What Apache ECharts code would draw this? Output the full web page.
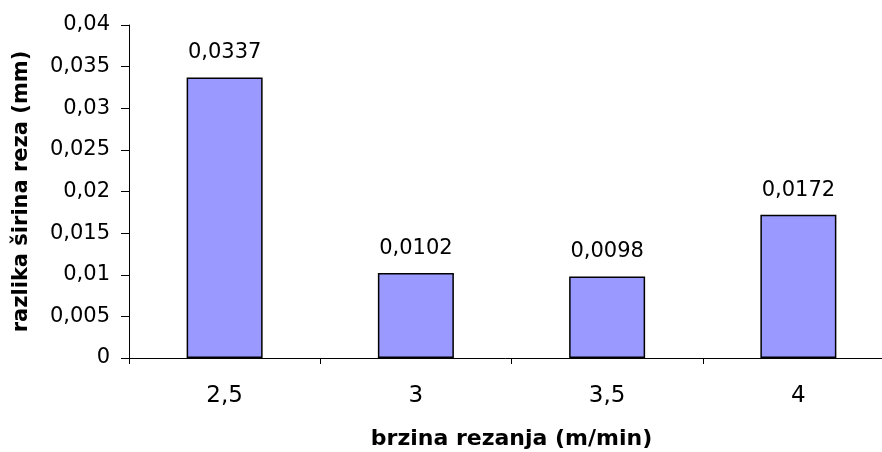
<!DOCTYPE html>
<html>
<head>
<meta charset="utf-8">
<script src="https://cdn.jsdelivr.net/npm/echarts@6/dist/echarts.min.js"></script>
<style>
  html, body { margin: 0; padding: 0; background: #fff; }
  #chart { width: 882px; height: 452px; }
</style>
</head>
<body>
<div id="chart"></div>
<script>
// Cutting speed categories (m/min) and measured kerf width difference (mm)
const categories = ['2,5', '3', '3,5', '4'];
const values = [0.0337, 0.0102, 0.0098, 0.0172];
const yTicks = { min: 0, max: 0.04, interval: 0.005 };

// Decimal comma formatting
const fmt = v => String(Number(v.toFixed(4))).replace('.', ',');

const chart = echarts.init(document.getElementById('chart'));
chart.setOption({
  animation: false,
  backgroundColor: '#ffffff',
  textStyle: { fontFamily: 'DejaVu Sans', color: '#000' },
  grid: {
    left: 129, right: -12, top: 25, bottom: 94,
    containLabel: false,
    outerBoundsMode: 'none'
  },
  xAxis: {
    type: 'category',
    data: categories,
    name: 'brzina rezanja (m/min)',
    nameLocation: 'middle',
    nameGap: 70,
    nameTextStyle: { fontSize: 22, fontWeight: 'bold', color: '#000', fontFamily: 'DejaVu Sans' },
    axisLine: { lineStyle: { color: '#000', width: 1 } },
    axisTick: { show: true, length: 6, lineStyle: { color: '#000' } },
    axisLabel: { fontSize: 23, color: '#000', margin: 27, fontFamily: 'DejaVu Sans' },
    splitLine: { show: false }
  },
  yAxis: {
    type: 'value',
    min: yTicks.min,
    max: yTicks.max,
    interval: yTicks.interval,
    name: 'razlika širina reza (mm)',
    nameLocation: 'middle',
    nameGap: 97,
    nameTextStyle: { fontSize: 21, fontWeight: 'bold', color: '#000', fontFamily: 'DejaVu Sans' },
    axisLine: { show: true, lineStyle: { color: '#000', width: 1 } },
    axisTick: { show: true, length: 8, lineStyle: { color: '#000' } },
    axisLabel: { fontSize: 21, color: '#000', margin: 19, fontFamily: 'DejaVu Sans', formatter: v => fmt(v) },
    splitLine: { show: false }
  },
  series: [{
    type: 'bar',
    data: values,
    barWidth: 76,
    itemStyle: { color: '#9999ff', borderColor: '#000', borderWidth: 1.5 },
    label: {
      show: true,
      position: 'top',
      distance: 14,
      fontSize: 21,
      color: '#000',
      fontFamily: 'DejaVu Sans',
      formatter: p => fmt(p.value)
    }
  }]
});
</script>
</body>
</html>
